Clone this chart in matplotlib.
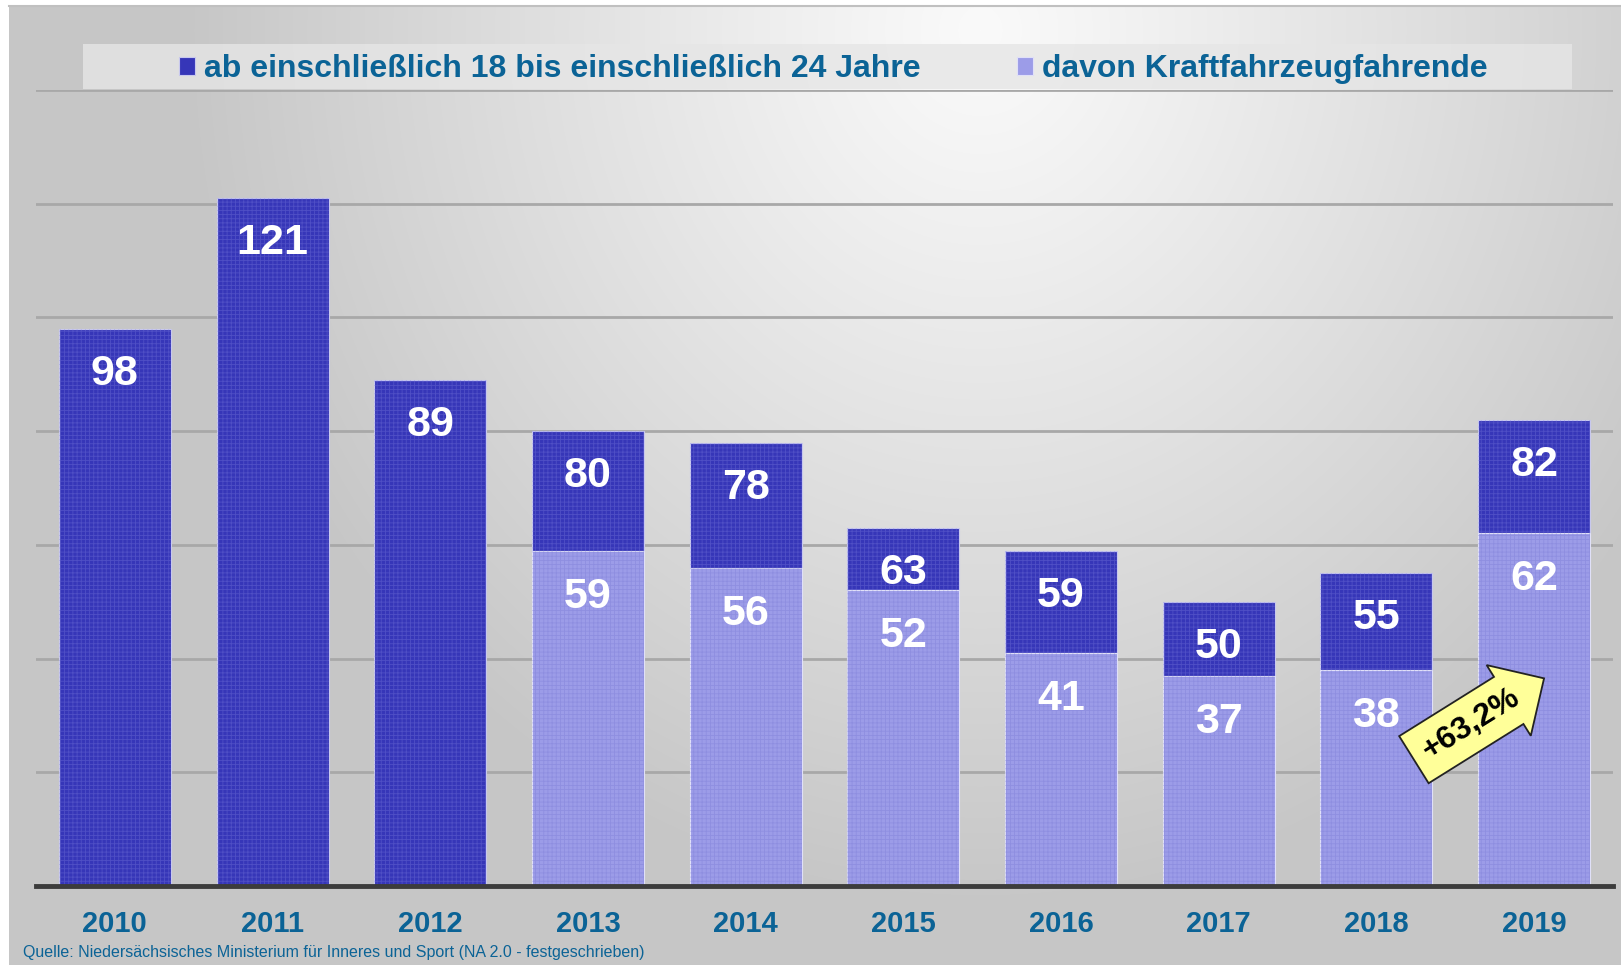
import numpy as np
import matplotlib
matplotlib.use("Agg")
import matplotlib.pyplot as plt
from matplotlib.patches import Rectangle

years = ["2010", "2011", "2012", "2013", "2014", "2015", "2016", "2017", "2018", "2019"]
total_18_24 = [98, 121, 89, 80, 78, 63, 59, 50, 55, 82]
kfz_fahrende = [0, 0, 0, 59, 56, 52, 41, 37, 38, 62]
legend_labels = ["ab einschließlich 18 bis einschließlich 24 Jahre", "davon Kraftfahrzeugfahrende"]
change_text = "+63,2%"
source_text = "Quelle: Niedersächsisches Ministerium für Inneres und Sport (NA 2.0 - festgeschrieben)"

DARK = "#3636b8"
LIGHT = "#9c9ce8"
BLUE_TXT = "#0b6396"
plt.rcParams["font.family"] = ["Liberation Sans", "DejaVu Sans"]
plt.rcParams["hatch.linewidth"] = 0.6

W, H = 1621, 965
fig = plt.figure(figsize=(W / 100, H / 100), dpi=100)
fig.patch.set_facecolor("white")

# background gradient panel
bg = fig.add_axes([0, 0, 1, 1], zorder=-10)
bg.set_axis_off()
yy, xx = np.mgrid[0:H, 0:W]
t = np.sqrt(((xx - 980) / 800.0) ** 2 + ((yy - 30) / 880.0) ** 2)
t = np.clip(t, 0, 1)
val = (250 - 52 * t ** 1.1) / 255.0
img = np.dstack([val, val, val])
img[:6, :, :] = 1.0
img[:, :9, :] = 1.0
bg.imshow(img, extent=[0, 1, 0, 1], aspect="auto", origin="upper")
bg.set_xlim(0, 1)
bg.set_ylim(0, 1)
bg.plot([9 / W, 1], [1 - 6 / H, 1 - 6 / H], color="#c0c0c0", lw=1.5)
# legend band
bg.add_patch(Rectangle((83 / W, 1 - 89 / H), (1572 - 83) / W, 45 / H,
                       facecolor="#e6e6e6", edgecolor="none", alpha=0.8))

ax = fig.add_axes([36 / W, 1 - 886 / H, (1613 - 36) / W, (886 - 90) / H])
ax.set_facecolor("none")
x = np.arange(len(years))
upper = [t_ - k for t_, k in zip(total_18_24, kfz_fahrende)]
b_dark = ax.bar(x, upper, bottom=kfz_fahrende, width=0.71, color=DARK,
                edgecolor="#c8c8ee", linewidth=0.8, zorder=3, label=legend_labels[0])
b_light = ax.bar(x, kfz_fahrende, width=0.71, color=LIGHT,
                 edgecolor="#e0e0f8", linewidth=0.8, zorder=3, label=legend_labels[1])
# subtle texture overlay
ax.bar(x, upper, bottom=kfz_fahrende, width=0.71, facecolor="none",
       edgecolor="#8080e0", linewidth=0, hatch="++++", alpha=0.35, zorder=4)
ax.bar(x, kfz_fahrende, width=0.71, facecolor="none",
       edgecolor="#7070d0", linewidth=0, hatch="++++", alpha=0.3, zorder=4)

ax.set_xlim(-0.5, len(years) - 0.5)
ax.set_ylim(0, 140)
ax.set_yticks(np.arange(0, 141, 20))
ax.yaxis.grid(True, color="#a8a8a8", linewidth=2)
ax.set_axisbelow(True)
for s in ["left", "right", "top"]:
    ax.spines[s].set_visible(False)
ax.spines["bottom"].set_color("#3c3c3c")
ax.spines["bottom"].set_linewidth(3.5)
ax.spines["bottom"].set_zorder(5)
ax.tick_params(axis="y", left=False, labelleft=False)
ax.tick_params(axis="x", length=0, pad=17)
ax.set_xticks(x)
ax.set_xticklabels(years, fontsize=21, fontweight="bold", color=BLUE_TXT)

for xi, tot, k in zip(x, total_18_24, kfz_fahrende):
    ax.annotate(str(tot), (xi, tot), xytext=(0, -45), textcoords="offset pixels",
                ha="center", va="center", fontsize=31, fontweight="bold",
                color="white", zorder=6)
    if k > 0:
        ax.annotate(str(k), (xi, k), xytext=(0, -46), textcoords="offset pixels",
                    ha="center", va="center", fontsize=31, fontweight="bold",
                    color="white", zorder=6)

# growth arrow
ax.text(8.6, 28.5, change_text, rotation=32, rotation_mode="anchor",
        ha="center", va="center", fontsize=23, fontweight="bold", color="black",
        zorder=8,
        bbox=dict(boxstyle="rarrow,pad=0.4", facecolor="#ffff99",
                  edgecolor="#222222", linewidth=1.3))

leg = fig.legend(handles=[b_dark, b_light], labels=legend_labels, loc="center",
                 bbox_to_anchor=(0.514, 1 - 69 / H), ncol=2, frameon=False,
                 fontsize=23, handlelength=0.5, handleheight=0.5,
                 handletextpad=0.3, columnspacing=3.0)
for txt in leg.get_texts():
    txt.set_color(BLUE_TXT)
    txt.set_fontweight("bold")

fig.text(23 / W, 1 - 953 / H, source_text, ha="left", va="center",
         fontsize=11.5, color=BLUE_TXT)

fig.savefig("out.png", dpi=100)
